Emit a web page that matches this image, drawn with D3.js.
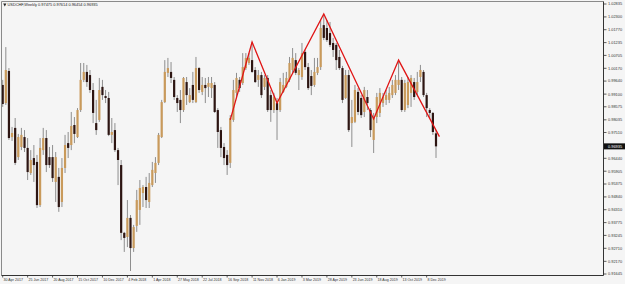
<!DOCTYPE html>
<html><head><meta charset="utf-8">
<script src="https://cdn.jsdelivr.net/npm/d3@7"></script>
<style>html,body{margin:0;padding:0;background:#f5f5f5;} svg{display:block;}</style>
</head><body><svg id="c" width="625" height="284"></svg>
<script>
const symbol = "USDCHF,Weekly";
const dateLabels = ["30 Apr 2017","25 Jun 2017","20 Aug 2017","15 Oct 2017","10 Dec 2017","4 Feb 2018","1 Apr 2018","27 May 2018","22 Jul 2018","16 Sep 2018","11 Nov 2018","6 Jan 2019","3 Mar 2019","28 Apr 2019","23 Jun 2019","18 Aug 2019","13 Oct 2019","8 Dec 2019"];
const labelEvery = 8;
const yTickLabels = ["1.02835","1.02300","1.01770","1.01235","1.00705","1.00170","0.99640","0.99100","0.98575","0.98035","0.97510","0.96970","0.96440","0.95905","0.95375","0.94840","0.94310","0.93775","0.93245","0.92710","0.92170","0.91645"];

const openP = [
0.9948,0.9873,1.0006,0.9732,0.9770,0.9649,0.9691,0.9732,0.9687,0.9583,
0.9645,0.9629,0.9450,0.9678,0.9728,0.9649,0.9649,0.9546,0.9567,0.9463,
0.9604,0.9707,0.9699,0.9782,0.9732,0.9844,0.9969,1.0002,0.9989,0.9927,
0.9790,0.9803,0.9940,0.9902,0.9894,0.9741,0.9761,0.9678,0.9616,0.9335,
0.9318,0.9397,0.9272,0.9364,0.9430,0.9500,0.9525,0.9463,0.9533,0.9583,
0.9625,0.9732,0.9877,0.9998,1.0002,0.9969,0.9894,0.9886,0.9844,0.9960,
0.9877,0.9948,0.9877,1.0018,0.9919,0.9948,0.9940,0.9935,0.9948,0.9844,
0.9761,0.9691,0.9658,0.9625,0.9803,0.9915,0.9969,0.9956,1.0018,1.0039,
1.0051,1.0010,0.9969,0.9989,0.9940,0.9977,0.9906,0.9844,0.9873,0.9844,
0.9919,0.9940,0.9969,1.0010,1.0051,0.9989,0.9981,1.0085,1.0022,0.9985,
0.9948,0.9998,1.0022,1.0196,1.0184,1.0163,1.0122,1.0114,1.0064,1.0018,
0.9894,0.9989,0.9790,0.9795,0.9919,0.9894,0.9836,0.9898,0.9844,0.9720,
0.9815,0.9832,0.9873,0.9886,0.9886,0.9906,0.9915,0.9948,0.9969,0.9844,
0.9865,0.9915,0.9960,0.9919,0.9981,1.0002,0.9906,0.9844,0.9832,0.97475];
const highP = [
0.9969,1.0105,1.0018,0.9774,0.9811,0.9745,0.9770,0.9761,0.9728,0.9678,
0.9699,0.9658,0.9728,0.9770,0.9761,0.9691,0.9699,0.9670,0.9604,0.9645,
0.9741,0.9753,0.9836,0.9815,0.9852,1.0039,1.0039,1.0031,1.0010,0.9956,
0.9886,0.9977,0.9969,0.9927,0.9919,0.9811,0.9790,0.9687,0.9637,0.9339,
0.9471,0.9409,0.9368,0.9513,0.9554,0.9533,0.9567,0.9583,0.9629,0.9649,
0.9749,0.9886,1.0051,1.0060,1.0043,0.9981,0.9906,0.9927,0.9981,0.9981,
0.9935,1.0002,1.0064,1.0022,0.9981,0.9977,0.9981,0.9981,0.9960,0.9852,
0.9774,0.9707,0.9678,0.9823,0.9969,0.9998,0.9981,1.0080,1.0080,1.0080,
1.0126,1.0022,1.0010,1.0002,0.9989,0.9989,0.9927,0.9915,0.9894,0.9977,
0.9998,1.0002,1.0064,1.0101,1.0080,1.0018,1.0122,1.0093,1.0039,1.0010,
1.0060,1.0060,1.0217,1.0242,1.0217,1.0209,1.0143,1.0122,1.0093,1.0027,
1.0010,1.0010,0.9886,0.9948,0.9935,0.9906,0.9940,0.9927,0.9852,0.9832,
0.9915,0.9935,0.9915,0.9927,0.9940,0.9969,0.9989,1.0043,0.9981,0.9969,
0.9981,0.9989,0.9977,1.0002,1.0031,1.0010,0.9915,0.9852,0.9836,0.97614];
const lowP = [
0.9857,0.9865,0.9720,0.9716,0.9616,0.9637,0.9678,0.9670,0.9554,0.9575,
0.9546,0.9438,0.9442,0.9658,0.9587,0.9604,0.9546,0.9463,0.9422,0.9442,
0.9583,0.9645,0.9678,0.9707,0.9728,0.9836,0.9960,0.9940,0.9915,0.9790,
0.9741,0.9795,0.9886,0.9873,0.9736,0.9707,0.9670,0.9533,0.9305,0.9256,
0.9276,0.9177,0.9256,0.9339,0.9368,0.9442,0.9438,0.9438,0.9525,0.9542,
0.9616,0.9728,0.9873,0.9981,0.9956,0.9886,0.9836,0.9790,0.9836,0.9865,
0.9873,0.9873,0.9873,0.9915,0.9906,0.9873,0.9898,0.9894,0.9832,0.9687,
0.9649,0.9616,0.9575,0.9604,0.9795,0.9898,0.9919,0.9948,1.0010,1.0031,
0.9998,0.9956,0.9940,0.9894,0.9927,0.9836,0.9795,0.9832,0.9720,0.9836,
0.9915,0.9935,0.9960,0.9998,0.9989,0.9927,0.9969,1.0010,0.9927,0.9906,
0.9940,0.9989,1.0010,1.0134,1.0126,1.0105,1.0064,1.0010,1.0010,0.9873,
0.9890,0.9753,0.9691,0.9790,0.9823,0.9811,0.9815,0.9844,0.9732,0.9666,
0.9790,0.9815,0.9857,0.9865,0.9873,0.9894,0.9906,0.9927,0.9836,0.9836,
0.9852,0.9857,0.9886,0.9906,0.9960,0.9898,0.9815,0.9811,0.9741,0.96454];
const closeP = [
0.9869,1.0010,0.9728,0.9749,0.9625,0.9732,0.9741,0.9687,0.9587,0.9637,
0.9616,0.9450,0.9687,0.9728,0.9616,0.9616,0.9562,0.9649,0.9442,0.9604,
0.9699,0.9687,0.9778,0.9745,0.9844,0.9969,1.0002,0.9960,0.9927,0.9832,
0.9761,0.9927,0.9906,0.9894,0.9741,0.9753,0.9678,0.9637,0.9335,0.9314,
0.9397,0.9272,0.9359,0.9471,0.9521,0.9525,0.9471,0.9542,0.9596,0.9625,
0.9741,0.9877,1.0002,1.0018,0.9977,0.9898,0.9873,0.9844,0.9977,0.9906,
0.9906,0.9886,1.0018,0.9927,0.9948,0.9935,0.9956,0.9956,0.9836,0.9753,
0.9687,0.9645,0.9616,0.9811,0.9927,0.9977,0.9935,1.0022,1.0060,1.0060,
1.0002,0.9960,0.9989,0.9906,0.9977,0.9844,0.9844,0.9898,0.9844,0.9960,
0.9948,0.9977,1.0039,1.0060,0.9998,1.0010,1.0080,1.0022,0.9935,0.9944,
1.0002,1.0022,1.0184,1.0143,1.0134,1.0114,1.0093,1.0051,1.0018,0.9886,
0.9989,0.9761,0.9815,0.9927,0.9836,0.9823,0.9927,0.9873,0.9761,0.9815,
0.9898,0.9915,0.9898,0.9906,0.9915,0.9948,0.9969,0.9969,0.9844,0.9956,
0.9960,0.9977,0.9898,0.9960,1.0010,0.9906,0.9852,0.9832,0.9753,0.96935];

// hand-drawn red pattern lines (bar index, price)
const lineBar = [73, 80, 88, 103, 119, 127, 140.1];
const linePrice = [0.9803, 1.0126, 0.9873, 1.0242, 0.9807, 1.0051, 0.9734];

const svg = d3.select("#c");
const W = 625, H = 284;
const plot = {left: 1.5, top: 1.5, right: 603.5, bottom: 275.5};

svg.append("rect").attr("width", W).attr("height", H).attr("fill", "#f5f5f5");

const n = openP.length;
const x = d3.scaleLinear().domain([0, n - 1]).range([2.7, 436]);
const y = d3.scaleLinear().domain([0.91645, 1.02835]).range([274, 4]);

const g = svg.append("g");
const clip = svg.append("clipPath").attr("id", "pc").append("rect")
  .attr("x", plot.left).attr("y", plot.top)
  .attr("width", plot.right - plot.left).attr("height", plot.bottom - plot.top);
const pg = g.append("g").attr("clip-path", "url(#pc)");

const bars = d3.range(n).map(i => ({i, o: openP[i], h: highP[i], l: lowP[i], c: closeP[i]}));

pg.selectAll("line.wick").data(bars).enter().append("line")
  .attr("class", "wick")
  .attr("x1", d => x(d.i)).attr("x2", d => x(d.i))
  .attr("y1", d => y(d.h)).attr("y2", d => y(d.l))
  .attr("stroke", "#8e8e8e").attr("stroke-width", 1);

const bw = 2.2;
pg.selectAll("rect.body").data(bars).enter().append("rect")
  .attr("class", "body")
  .attr("x", d => x(d.i) - bw / 2)
  .attr("width", bw)
  .attr("y", d => y(Math.max(d.o, d.c)))
  .attr("height", d => Math.max(0.8, Math.abs(y(d.o) - y(d.c))))
  .attr("fill", d => d.c >= d.o ? "#c99a5b" : "#2d1512");

const lineData = lineBar.map((b, k) => [b, linePrice[k]]);
pg.append("path").datum(lineData)
  .attr("d", d3.line().x(d => x(d[0])).y(d => y(d[1])))
  .attr("fill", "none").attr("stroke", "#e01515").attr("stroke-width", 1.3)
  .attr("stroke-linejoin", "miter");

// frame
svg.append("line").attr("x1", plot.left).attr("x2", plot.right).attr("y1", plot.top).attr("y2", plot.top).attr("stroke", "#8a8a8a").attr("stroke-width", 1);
svg.append("line").attr("x1", plot.left).attr("x2", plot.left).attr("y1", plot.top).attr("y2", plot.bottom).attr("stroke", "#8a8a8a").attr("stroke-width", 1);
svg.append("line").attr("x1", plot.right).attr("x2", plot.right).attr("y1", plot.top).attr("y2", plot.bottom).attr("stroke", "#333").attr("stroke-width", 1);
svg.append("line").attr("x1", plot.left).attr("x2", plot.right).attr("y1", plot.bottom).attr("y2", plot.bottom).attr("stroke", "#333").attr("stroke-width", 1);

const font = "'Liberation Sans', Arial, sans-serif";
const lastClose = closeP[n - 1];
const yLast = y(lastClose);

// y labels
const yt = yTickLabels.map(s => ({s, v: parseFloat(s)}));
svg.selectAll("line.ytick").data(yt).enter().append("line")
  .attr("x1", plot.right).attr("x2", plot.right + 3)
  .attr("y1", d => y(d.v)).attr("y2", d => y(d.v))
  .attr("stroke", "#333").attr("stroke-width", 0.8);
svg.selectAll("text.ylab").data(yt.filter(d => Math.abs(y(d.v) - yLast) > 5)).enter().append("text")
  .attr("x", 608).attr("y", d => y(d.v) + 1.4)
  .attr("font-family", font).attr("font-size", 3.9).attr("fill", "#333")
  .text(d => d.s);

// current price box
svg.append("rect").attr("x", 604).attr("y", yLast - 3).attr("width", 21).attr("height", 6).attr("fill", "#111");
svg.append("text").attr("x", 608).attr("y", yLast + 1.4)
  .attr("font-family", font).attr("font-size", 3.9).attr("fill", "#fff")
  .text(lastClose.toFixed(5));

// x labels
const xt = dateLabels.map((s, k) => ({s, i: k * labelEvery}));
svg.selectAll("line.xtick").data(xt).enter().append("line")
  .attr("x1", d => x(d.i)).attr("x2", d => x(d.i))
  .attr("y1", plot.bottom).attr("y2", plot.bottom + 2)
  .attr("stroke", "#333").attr("stroke-width", 0.8);
svg.selectAll("text.xlab").data(xt).enter().append("text")
  .attr("x", d => x(d.i) + 0.8).attr("y", 280.5)
  .attr("font-family", font).attr("font-size", 3.6).attr("fill", "#333")
  .text(d => d.s);

// title
svg.append("path").attr("d", "M3.2,3.6 L6.4,3.6 L4.8,6.4 Z").attr("fill", "#222");
svg.append("text").attr("x", 7.5).attr("y", 6.4)
  .attr("font-family", font).attr("font-size", 3.9).attr("fill", "#222")
  .text(symbol + "  " + [openP[n-1], highP[n-1], lowP[n-1], closeP[n-1]].map(v => v.toFixed(5)).join(" "));
</script>
</body></html>
